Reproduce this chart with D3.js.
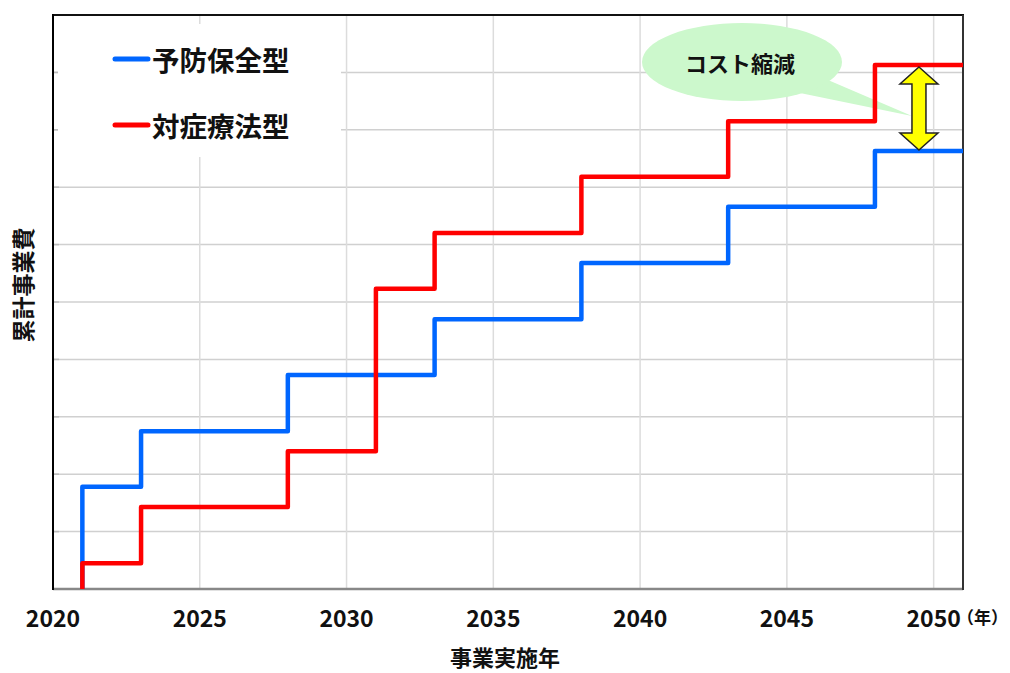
<!DOCTYPE html>
<html><head><meta charset="utf-8">
<script src="https://cdn.jsdelivr.net/npm/d3@7"></script>
<style>html,body{margin:0;padding:0;background:#fff;}svg{display:block;font-family:"Noto Sans CJK JP","Noto Sans",sans-serif;}</style>
</head><body>
<svg id="c" width="1010" height="673"></svg>
<script>
const xTicks = [2020, 2025, 2030, 2035, 2040, 2045, 2050];
const seriesNames = ["予防保全型", "対症療法型"];
const seriesColors = ["#0066ff", "#ff0000"];
// step data: year at which value changes, and cumulative value after that year (arbitrary units, grid = 1)
const preventiveYears = [2021, 2021, 2023, 2028, 2033, 2038, 2043, 2048, 2051];
const preventiveValues = [0, 1.78, 2.75, 3.73, 4.70, 5.68, 6.66, 7.63, 7.63];
const reactiveYears = [2021, 2021, 2023, 2028, 2031, 2033, 2038, 2043, 2048, 2051];
const reactiveValues = [0, 0.45, 1.43, 2.40, 5.23, 6.20, 7.18, 8.15, 9.13, 9.13];
const yTicks = [0,1,2,3,4,5,6,7,8,9,10];
const xTitle = "事業実施年";
const yTitle = "累計事業費";
const xUnit = "（年）";
const calloutText = "コスト縮減";

const svg = d3.select("#c");
const L = 53, R = 963, T = 15, B = 589;
const x = d3.scaleLinear().domain([2020, 2051]).range([L, R]);
const y = d3.scaleLinear().domain([0, 10]).range([B, T]);

// grid
svg.append("g").selectAll("line").data(yTicks.slice(1, -1)).join("line")
  .attr("x1", L).attr("x2", R).attr("y1", d => y(d)).attr("y2", d => y(d))
  .attr("stroke", "#d0d0d0").attr("stroke-width", 1.5);
svg.append("g").selectAll("line").data(xTicks.slice(1)).join("line")
  .attr("x1", d => x(d)).attr("x2", d => x(d)).attr("y1", T).attr("y2", B)
  .attr("stroke", "#dcdcdc").attr("stroke-width", 1.5);
// y ticks
svg.append("g").selectAll("line").data(yTicks.slice(1, -1)).join("line")
  .attr("x1", L).attr("x2", L + 6).attr("y1", d => y(d)).attr("y2", d => y(d))
  .attr("stroke", "#bbb").attr("stroke-width", 1.5);

// legend box (white background hides grid)
svg.append("rect").attr("x", 58).attr("y", 24).attr("width", 283).attr("height", 133).attr("fill", "#fff");

// callout
const callout = svg.append("g");
callout.append("path").attr("d", "M828,80 L912,116 L800,93 Z").attr("fill", "#ccf8cc");
callout.append("ellipse").attr("cx", 742).attr("cy", 62).attr("rx", 100).attr("ry", 39).attr("fill", "#ccf8cc");
callout.append("text").attr("x", 740).attr("y", 62).attr("text-anchor", "middle").attr("dominant-baseline", "central")
  .attr("font-size", 22).attr("font-weight", 700).attr("fill", "#111").text(calloutText);

// borders
svg.append("line").attr("x1", L).attr("x2", R).attr("y1", B).attr("y2", B).attr("stroke", "#888").attr("stroke-width", 2.5);
svg.append("line").attr("x1", L).attr("x2", R + 1).attr("y1", T).attr("y2", T).attr("stroke", "#111").attr("stroke-width", 2);
svg.append("line").attr("x1", R).attr("x2", R).attr("y1", T).attr("y2", B + 1).attr("stroke", "#333").attr("stroke-width", 2);
svg.append("line").attr("x1", L).attr("x2", L).attr("y1", T - 1).attr("y2", B + 1).attr("stroke", "#000").attr("stroke-width", 2);

// step lines
const line = d3.line().x(d => x(d[0])).y(d => y(d[1])).curve(d3.curveStepAfter);
const series = [
  {years: preventiveYears, values: preventiveValues, color: seriesColors[0]},
  {years: reactiveYears, values: reactiveValues, color: seriesColors[1]}
];
series.forEach(s => {
  const pts = s.years.map((yr, i) => [yr, s.values[i]]);
  svg.append("path").attr("d", line(pts)).attr("fill", "none").attr("stroke", s.color)
    .attr("stroke-width", 4.5).attr("stroke-linejoin", "round");
});

// double arrow between the two series at the end
const ax = x(2049.5);
const yTop = y(reactiveValues[reactiveValues.length - 1]) + 2;
const yBot = y(preventiveValues[preventiveValues.length - 1]) - 1;
const hw = 19, sw = 7, hl = 17;
svg.append("path")
  .attr("d", `M${ax},${yTop} L${ax + hw},${yTop + hl} L${ax + sw},${yTop + hl} L${ax + sw},${yBot - hl} L${ax + hw},${yBot - hl} L${ax},${yBot} L${ax - hw},${yBot - hl} L${ax - sw},${yBot - hl} L${ax - sw},${yTop + hl} L${ax - hw},${yTop + hl} Z`)
  .attr("fill", "#ffff00").attr("stroke", "#222").attr("stroke-width", 1.5).attr("stroke-linejoin", "miter");

// legend
const leg = svg.append("g");
seriesNames.forEach((n, i) => {
  const yy = 59 + i * 66;
  leg.append("line").attr("x1", 115).attr("x2", 148).attr("y1", yy).attr("y2", yy)
    .attr("stroke", seriesColors[i]).attr("stroke-width", 5).attr("stroke-linecap", "round");
  leg.append("text").attr("x", 152).attr("y", yy).attr("dominant-baseline", "central")
    .attr("font-size", 27.5).attr("font-weight", 700).attr("fill", "#111").text(n);
});

// x tick labels
svg.append("g").selectAll("text").data(xTicks).join("text")
  .attr("x", d => x(d)).attr("y", 627).attr("text-anchor", "middle")
  .attr("font-size", 23).attr("font-weight", 700).attr("fill", "#111").text(d => d);
svg.append("text").attr("x", 1008).attr("y", 624).attr("text-anchor", "end")
  .attr("font-size", 17).attr("font-weight", 700).attr("fill", "#111").text(xUnit);

// titles
svg.append("text").attr("x", 505).attr("y", 656).attr("text-anchor", "middle").attr("dominant-baseline", "central")
  .attr("font-size", 22).attr("font-weight", 700).attr("fill", "#111").text(xTitle);
svg.append("text").attr("transform", "translate(22,285) rotate(-90)").attr("text-anchor", "middle").attr("dominant-baseline", "central")
  .attr("font-size", 23).attr("font-weight", 700).attr("fill", "#111").text(yTitle);
</script>
</body></html>
